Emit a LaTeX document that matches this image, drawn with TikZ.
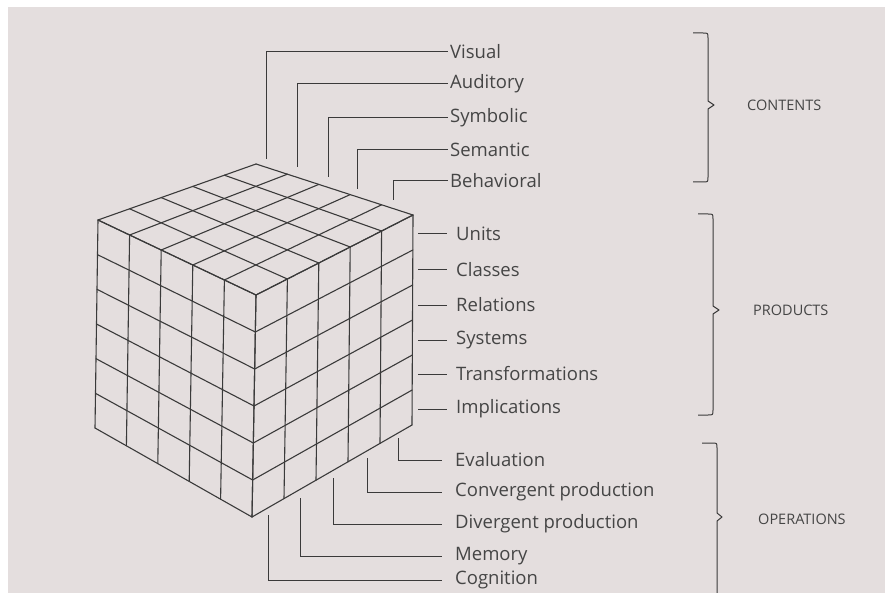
\documentclass[tikz,border=0pt]{standalone}
\usepackage{fontspec}
\setmainfont{Open Sans}
\usetikzlibrary{calc}
\definecolor{bg}{HTML}{E4DEDE}
\definecolor{ink}{HTML}{3A3A3A}
\definecolor{txt}{HTML}{454545}
\begin{document}
\begin{tikzpicture}[x=1pt,y=-1pt,
  cube/.style={draw=ink,line width=1.1pt,line join=round,line cap=round},
  conn/.style={draw=ink,line width=1pt},
  lbl/.style={anchor=west,inner sep=2pt,text=txt,font=\fontsize{18.5}{20}\selectfont},
  cat/.style={anchor=west,inner sep=0pt,text=txt,font=\fontsize{14.5}{16}\selectfont},
  brace/.style={draw=ink,line width=1pt,line join=round}]
\useasboundingbox (0,0) rectangle (885,593);
\clip (0,0) rectangle (885,593);
\fill[white] (0,0) rectangle (885,593);
\fill[bg] (8,7) rectangle (885,593);

% cube corners
\coordinate (T) at (256,164);
\coordinate (L) at (98,220);
\coordinate (F) at (256,295);
\coordinate (R) at (413,215);
\coordinate (Lb) at (95,428);
\coordinate (Fb) at (252,517);
\coordinate (Rb) at (412,425);

% top face 5x5 and side-face columns
\foreach \i [evaluate=\i as \t using \i/5] in {0,...,5}{
  \draw[cube] ($(T)!\t!(L)$) -- ($(R)!\t!(F)$);
  \draw[cube] ($(T)!\t!(R)$) -- ($(L)!\t!(F)$);
  \draw[cube] ($(L)!\t!(F)$) -- ($(Lb)!\t!(Fb)$);
  \draw[cube] ($(F)!\t!(R)$) -- ($(Fb)!\t!(Rb)$);
}
% rows on the two side faces (6)
\foreach \i [evaluate=\i as \s using \i/6] in {0,...,6}{
  \draw[cube] ($(L)!\s!(Lb)$) -- ($(F)!\s!(Fb)$);
  \draw[cube] ($(F)!\s!(Fb)$) -- ($(R)!\s!(Rb)$);
}

% CONTENTS labels
\node[lbl] (vis) at (448,52) {Visual};
\node[lbl] (aud) at (448,84) {Auditory};
\node[lbl] (sym) at (448,118) {Symbolic};
\node[lbl] (sem) at (448,150) {Semantic};
\node[lbl] (beh) at (448,181) {Behavioral};
\coordinate (cvis) at (266,159);
\coordinate (caud) at (297,167);
\coordinate (csym) at (328,177);
\coordinate (csem) at (357,189);
\coordinate (cbeh) at (393,200);
\draw[conn] (cvis) |- (vis.west);
\draw[conn] (caud) |- (aud.west);
\draw[conn] (csym) |- (sym.west);
\draw[conn] (csem) |- (sem.west);
\draw[conn] (cbeh) |- (beh.west);

% PRODUCTS labels
\node[lbl] (uni) at (454,234) {Units};
\node[lbl] (cla) at (454,270) {Classes};
\node[lbl] (rel) at (454,305) {Relations};
\node[lbl] (sys) at (454,340) {Systems};
\node[lbl] (tra) at (454,374) {Transformations};
\node[lbl] (imp) at (454,409) {Implications};
\foreach \n/\y in {uni/234,cla/270,rel/305,sys/340,tra/374,imp/409}{
  \coordinate (p\n) at (418,\y);
  \draw[conn,shorten >=7pt] (p\n) -- (\n.west);
}

% OPERATIONS labels
\node[lbl] (eva) at (453,460) {Evaluation};
\node[lbl] (con) at (453,492) {Convergent production};
\node[lbl] (div) at (453,524) {Divergent production};
\node[lbl] (mem) at (453,556) {Memory};
\node[lbl] (cog) at (453,580) {Cognition};
\coordinate (ceva) at (398,438);
\coordinate (ccon) at (367,458);
\coordinate (cdiv) at (333,478);
\coordinate (cmem) at (300,498);
\coordinate (ccog) at (268,515);
\draw[conn,shorten >=11pt] (ceva) |- (eva.west);
\draw[conn,shorten >=11pt] (ccon) |- (con.west);
\draw[conn,shorten >=11pt] (cdiv) |- (div.west);
\draw[conn,shorten >=11pt] (cmem) |- (mem.west);
\draw[conn,shorten >=11pt] (ccog) |- (cog.west);

% category labels
\node[cat] (cont) at (747,105) {CONTENTS};
\node[cat] (prod) at (753,310) {PRODUCTS};
\node[cat] (oper) at (758,519) {OPERATIONS};

% braces
\draw[brace] (693,33) -- (703,33) .. controls (708,33) .. (708,38) -- (708,101)
  -- (714,105) -- (708,109) -- (708,177) .. controls (708,182) .. (703,182) -- (693,182);
\draw[brace] (698,214) -- (708,214) .. controls (713,214) .. (713,219) -- (713,306)
  -- (719,310) -- (713,314) -- (713,410) .. controls (713,415) .. (708,415) -- (698,415);
\draw[brace] (702,443) -- (712,443) .. controls (717,443) .. (717,448) -- (717,513)
  -- (722,517) -- (717,521) -- (717,600);
\end{tikzpicture}
\end{document}
